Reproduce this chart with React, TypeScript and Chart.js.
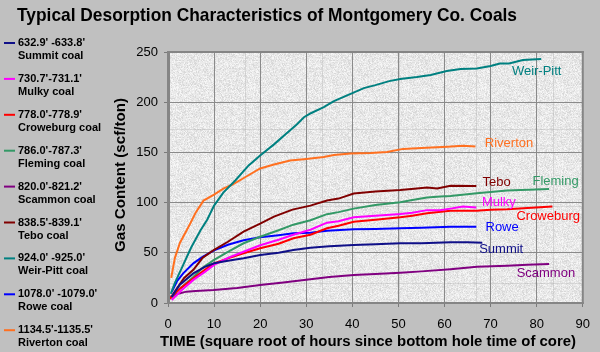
import { useEffect, useRef } from "react";
import { Chart, registerables } from "chart.js";
Chart.register(...registerables);

const FONT = "'Liberation Sans', Arial, Helvetica, sans-serif";

const titleText = "Typical Desorption Characteristics of Montgomery Co. Coals";
const xTitle = "TIME (square root of hours since bottom hole time of core)";
const yTitle = "Gas Content (scf/ton)";

const seriesNames = ["Summit", "Mulky", "Croweburg", "Fleming", "Scammon", "Tebo", "Weir-Pitt", "Rowe", "Riverton"];
const depthRanges = ["632.9' -633.8'", "730.7'-731.1'", "778.0'-778.9'", "786.0'-787.3'", "820.0'-821.2'", "838.5'-839.1'", "924.0' -925.0'", "1078.0' -1079.0'", "1134.5'-1135.5'"];
const seriesColors = ["#101088", "#ff00ff", "#ff0000", "#339966", "#800080", "#800000", "#008080", "#0000ff", "#ff7020"];

// [sqrt hours, scf/ton]
const summit = [[0.8,6],[2.5,18],[5.5,29.5],[8,36],[10,39.5],[13,42],[16.4,44.5],[20,47.8],[24,50],[27.2,52.8],[30.9,55],[35,56.5],[40.3,57.8],[45,58.5],[50.4,59.5],[55,59.5],[61.3,60.5],[65,60.5],[68.2,60]];
const mulky = [[0.8,3],[3,13],[5.5,23],[8,31],[10,38],[13,45],[16.4,51],[20,57.5],[24,63],[27.2,68],[30.9,73],[34.5,80],[37,81.5],[40.3,85.4],[45,87],[50.4,88.6],[53,90],[56.2,92.5],[59,92.5],[61.3,94],[64,96],[66.9,95]];
const croweburg = [[0.4,4.5],[2.5,14],[5.5,24.5],[8,33],[10,39.5],[13,44.5],[16.4,49.5],[20,54.5],[24,59],[27.2,64.5],[30.9,68],[34.5,74.5],[37,77],[40.3,81],[45,83],[50.4,85.4],[53,87],[56.2,89.3],[61.3,92],[66.9,92],[70,93],[73.6,93.3],[78,94.5],[83.4,96]];
const fleming = [[0.4,4.5],[2.5,14],[5.5,26],[7.5,35],[10,43],[13,51],[16.4,59.5],[20,66],[24,72.5],[27.2,78],[30.9,82.5],[34.5,88.5],[37,90.5],[40.3,94],[45,97.5],[50.4,100.3],[53,102.5],[56.2,105],[59.1,106],[61.3,106.6],[67,109.3],[73.6,112],[82.7,113.5]];
const scammon = [[0.4,6],[2,9],[4,11.3],[6,12],[9.9,13],[15,15],[20,18],[25,20.5],[30.9,23.6],[35,26],[40.3,27.9],[45,29],[50.4,30.2],[55,31.5],[61.3,33.6],[67,36],[73.6,37],[78,38],[82.7,38.8]];
const tebo = [[0.4,4],[2,15],[3.5,25],[5.5,33],[7.5,45],[10,53],[13,61],[16.4,71],[20,79],[23,86],[27,93],[30.9,97],[34.5,102],[37,104],[40.3,109],[45,111],[50.4,112.5],[54,114],[56.2,115],[58.4,114],[61.3,116.8],[66.9,116.5]];
const weirPitt = [[0.6,9],[1.5,20],[3,35],[5,55],[7,72],[8.5,83],[10,97],[12,110],[14.6,122],[17.5,137],[20,147],[23,158],[26,170],[28,178],[29.5,185],[31,189],[33.8,195],[36,201],[39,207],[42.5,214],[45,217],[48,221],[50.4,223],[54,225],[57,227],[60.5,231],[63.5,233],[67,233.5],[70,236],[72,238.5],[74,238.5],[77,242],[81,243]];
const rowe = [[0.8,11],[2,22],[3.3,29.5],[5.5,39.5],[7.5,46],[10,52.5],[13,58],[16.4,62.5],[20,65.5],[24,67.5],[27.2,69.4],[30.9,70],[34.5,72],[40.3,73.4],[45,73.8],[50.4,74.4],[55,75],[61.3,76],[66.9,76]];
const riverton = [[0.7,25],[1.5,45],[2.6,60],[4,72],[4.8,79],[6,90],[7.7,102],[10,108],[12,114],[14,118],[17,126],[20,134],[23,138],[26.5,142],[30,143.5],[33.8,145.5],[36,147.5],[39.6,149],[44,149.5],[47.5,150.5],[51,153.5],[55,154.5],[60.6,155.7],[64,156.5],[66.7,156]];

const seriesData = [summit, mulky, croweburg, fleming, scammon, tebo, weirPitt, rowe, riverton];
// label anchor positions in data units
const labelPos = [[72.3,53.5],[71.8,100.3],[82.5,86],[84.1,120.6],[82,29.6],[71.3,120],[80,231],[72.5,75],[74,159]];

const xMin = 0, xMax = 90, xStep = 10;
const yMin = 0, yMax = 250, yStep = 50;

function makeTexture(): HTMLCanvasElement {
  const c = document.createElement("canvas");
  const T = 77;
  c.width = T; c.height = T;
  const g = c.getContext("2d")!;
  const img = g.createImageData(T, T);
  let s = 12345;
  for (let i = 0; i < T * T; i++) {
    s = (s * 1103515245 + 12345) & 0x7fffffff;
    const r = (s >> 8) % 100;
    let v = 234;
    if (r < 15) v = 216; else if (r < 32) v = 224; else if (r > 80) v = 246;
    img.data[i * 4] = v; img.data[i * 4 + 1] = v; img.data[i * 4 + 2] = v; img.data[i * 4 + 3] = 255;
  }
  g.putImageData(img, 0, 0);
  g.fillStyle = "rgba(170,170,170,0.35)";
  g.fillRect(0, 0, T, 1);
  g.fillRect(0, 0, 1, T);
  return c;
}

function fitText(ctx: CanvasRenderingContext2D, text: string, cx: number, cy: number, width: number) {
  const w = ctx.measureText(text).width;
  ctx.save();
  ctx.translate(cx, cy);
  ctx.scale(width / w, 1);
  ctx.textAlign = "center";
  ctx.fillText(text, 0, 0);
  ctx.restore();
}

export default function App() {
  const ref = useRef<HTMLCanvasElement | null>(null);
  useEffect(() => {
    document.body.style.margin = "0";
    const canvas = ref.current!;
    const tex = makeTexture();

    const decor = {
      id: "decor",
      beforeDraw(chart: any) {
        const ctx = chart.ctx;
        const a = chart.chartArea;
        ctx.save();
        ctx.fillStyle = "#c0c0c0";
        ctx.fillRect(0, 0, chart.width, chart.height);
        const pat = ctx.createPattern(tex, "repeat");
        pat.setTransform(new DOMMatrix().translateSelf(a.left, a.top));
        ctx.fillStyle = pat;
        ctx.fillRect(a.left, a.top, a.right - a.left, a.bottom - a.top);
        ctx.restore();
      },
      afterDatasetsDraw(chart: any) {
        const ctx = chart.ctx;
        const xs = chart.scales.x, ys = chart.scales.y;
        ctx.save();
        ctx.font = `13px ${FONT}`;
        ctx.textAlign = "center";
        ctx.textBaseline = "middle";
        labelPos.forEach((p, i) => {
          ctx.fillStyle = seriesColors[i];
          ctx.fillText(seriesNames[i], xs.getPixelForValue(p[0]), ys.getPixelForValue(p[1]));
        });
        ctx.restore();
      },
      afterDraw(chart: any) {
        const ctx = chart.ctx;
        const a = chart.chartArea;
        ctx.save();
        // frame
        ctx.fillStyle = "#858585";
        ctx.fillRect(a.left - 1, a.top - 1, 3, a.bottom - a.top + 2);
        ctx.fillRect(a.left - 1, a.top - 1, a.right - a.left + 2, 2);
        ctx.fillRect(a.right - 1, a.top - 1, 2, a.bottom - a.top + 2);
        ctx.fillRect(a.left - 1, a.bottom - 1, a.right - a.left + 2, 2);
        // title
        ctx.fillStyle = "#000";
        ctx.font = `bold 19px ${FONT}`;
        ctx.textBaseline = "alphabetic";
        fitText(ctx, titleText, 267, 21, 500);
        // axis titles
        ctx.font = `bold 14px ${FONT}`;
        ctx.textBaseline = "middle";
        fitText(ctx, xTitle, 368, 342, 416);
        ctx.save();
        ctx.translate(121, 175);
        ctx.rotate(-Math.PI / 2);
        fitText(ctx, yTitle, 0, 0, 154);
        ctx.restore();
        // legend
        ctx.font = `bold 11px ${FONT}`;
        ctx.textAlign = "left";
        ctx.textBaseline = "middle";
        depthRanges.forEach((d, i) => {
          const yc = 43 + i * 35.9;
          ctx.strokeStyle = seriesColors[i];
          ctx.lineWidth = 2;
          ctx.beginPath();
          ctx.moveTo(4, yc);
          ctx.lineTo(15, yc);
          ctx.stroke();
          ctx.fillStyle = "#000";
          ctx.fillText(d, 18, yc);
          ctx.fillText(seriesNames[i] + " coal", 18, yc + 13);
        });
        ctx.restore();
      },
    };

    const chart = new Chart(canvas, {
      type: "scatter",
      data: {
        datasets: seriesData.map((pts, i) => ({
          label: seriesNames[i],
          data: pts.map((p) => ({ x: p[0], y: p[1] })),
          showLine: true,
          borderColor: seriesColors[i],
          backgroundColor: seriesColors[i],
          borderWidth: 2,
          pointRadius: 0,
          tension: 0,
        })),
      },
      options: {
        animation: false,
        responsive: false,
        devicePixelRatio: 1,
        layout: { padding: { left: 0, top: 52, right: 17, bottom: 0 } },
        plugins: { legend: { display: false }, title: { display: false }, tooltip: { enabled: false } },
        scales: {
          x: {
            type: "linear",
            min: xMin, max: xMax,
            afterFit: (s: any) => { s.height = 49; },
            ticks: { stepSize: xStep, color: "#000", font: { family: FONT, size: 13 }, padding: 10, maxRotation: 0 },
            grid: { color: "#8a8a8a", lineWidth: 1, tickLength: 4, tickColor: "#7a7a7a" },
            border: { display: false },
          },
          y: {
            type: "linear",
            min: yMin, max: yMax,
            afterFit: (s: any) => { s.width = 168; },
            ticks: { stepSize: yStep, color: "#000", font: { family: FONT, size: 13 }, padding: 6 },
            grid: { color: "#8a8a8a", lineWidth: 1, tickLength: 4, tickColor: "#7a7a7a" },
            border: { display: false },
          },
        },
      },
      plugins: [decor],
    } as any);
    return () => chart.destroy();
  }, []);
  return <canvas ref={ref} width={600} height={352} style={{ display: "block" }} />;
}
